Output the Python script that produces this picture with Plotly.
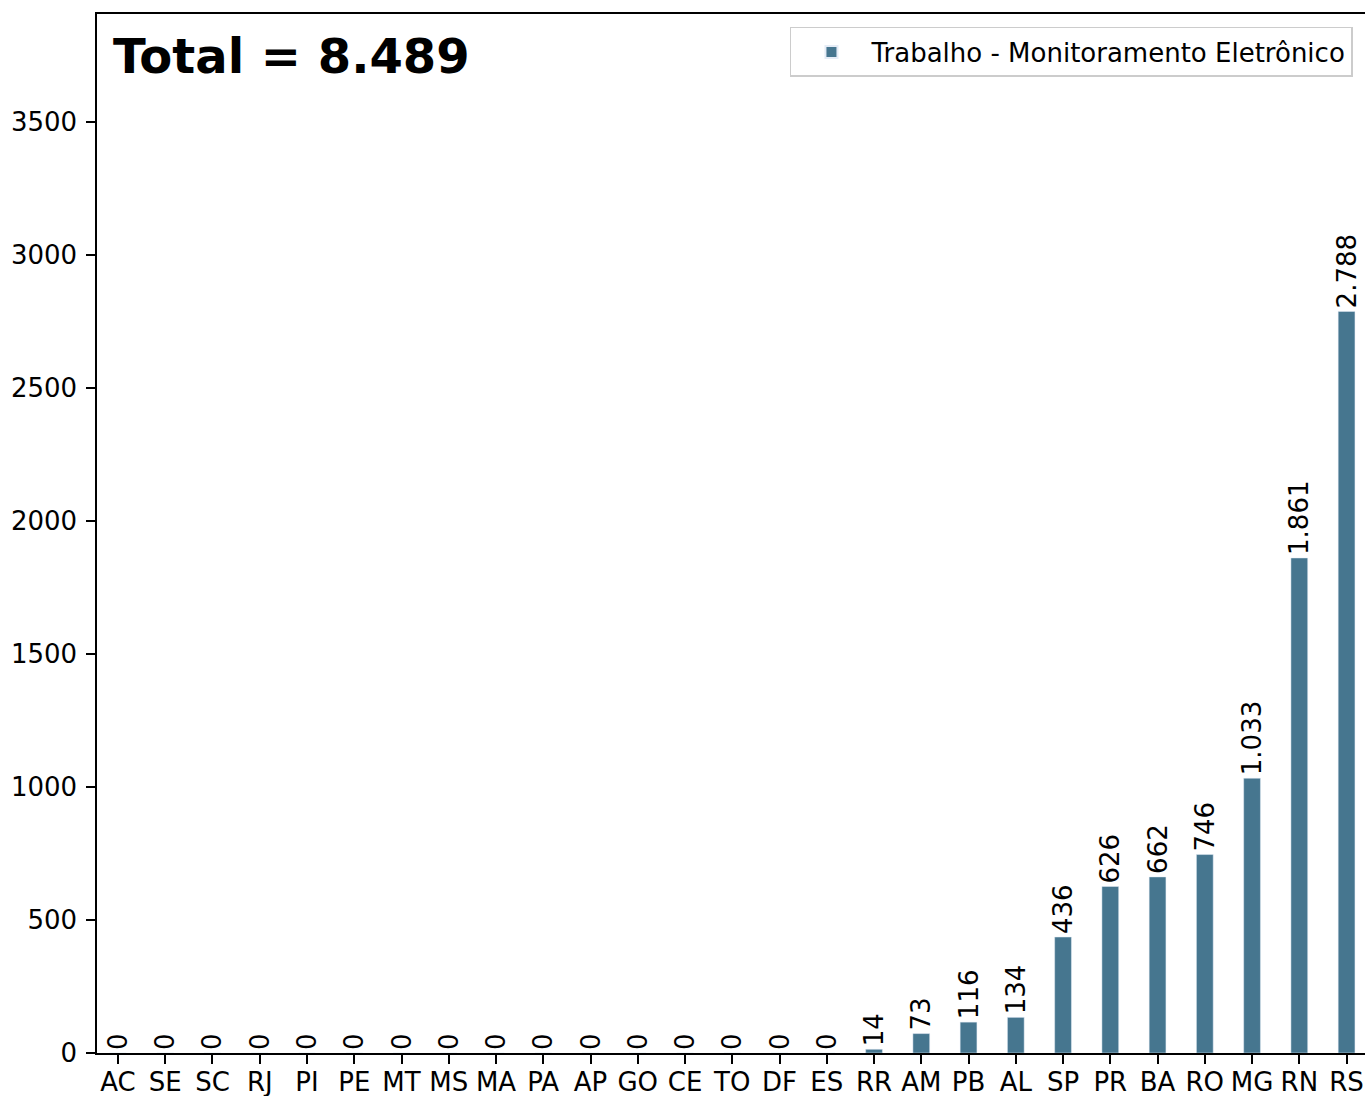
import plotly.graph_objects as go

estados = ['AC', 'SE', 'SC', 'RJ', 'PI', 'PE', 'MT', 'MS', 'MA', 'PA', 'AP', 'GO', 'CE',
           'TO', 'DF', 'ES', 'RR', 'AM', 'PB', 'AL', 'SP', 'PR', 'BA', 'RO', 'MG', 'RN', 'RS']
valores = [0, 0, 0, 0, 0, 0, 0, 0, 0, 0, 0, 0, 0,
           0, 0, 0, 14, 73, 116, 134, 436, 626, 662, 746, 1033, 1861, 2788]
serie = 'Trabalho - Monitoramento Eletrônico'


def fmt(v):
    return f'{v:,}'.replace(',', '.')


total = sum(valores)
cor = '#46768f'
fonte = 'DejaVu Sans'

fig = go.Figure()
fig.add_trace(
    go.Bar(
        x=list(range(len(estados))),
        y=valores,
        width=0.355,
        name=serie,
        marker_color=cor,
        text=[fmt(v) for v in valores],
        textposition='outside',
        textangle=-90,
        constraintext='none',
        cliponaxis=False,
        textfont=dict(family=fonte, size=26, color='black'),
        showlegend=True
    )
)

fig.add_annotation(
    text='<b>Total = ' + fmt(total) + '</b>',
    xref='paper', yref='paper',
    x=0.011, y=0.988,
    xanchor='left', yanchor='top',
    showarrow=False,
    font=dict(family=fonte, size=48, color='black')
)

# sem espinha direita (cortada na referência)
fig.update_xaxes(
    tickmode='array',
    tickvals=list(range(len(estados))),
    ticktext=estados,
    range=[-0.444, 26.39],
    showline=True, linecolor='black', linewidth=1.5, mirror=True,
    ticks='outside', ticklen=9, tickwidth=1.5, tickcolor='black',
    ticklabelstandoff=-4, automargin=False,
    showgrid=False, zeroline=False,
    tickfont=dict(family=fonte, size=26, color='black')
)
fig.update_yaxes(
    range=[0, 3906],
    tickmode='linear', tick0=0, dtick=500,
    showline=True, linecolor='black', linewidth=1.5, mirror=False,
    ticks='outside', ticklen=9, tickwidth=1.5, tickcolor='black',
    ticklabelstandoff=4, automargin=False,
    showgrid=False, zeroline=False,
    tickfont=dict(family=fonte, size=26, color='black')
)

fig.update_layout(
    width=1365, height=1096,
    margin=dict(l=97, r=0, t=14, b=43),
    plot_bgcolor='white', paper_bgcolor='white',
    font=dict(family=fonte, color='black'),
    legend=dict(
        x=0.9905, y=0.9875, xanchor='right', yanchor='top',
        bordercolor='#cccccc', borderwidth=1.5, bgcolor='white',
        itemwidth=70, itemsizing='constant',
        font=dict(family=fonte, size=26, color='black')
    )
)

fig.write_html('out.html', config={'displayModeBar': False},
               post_script="document.body.style.margin='0px';")
